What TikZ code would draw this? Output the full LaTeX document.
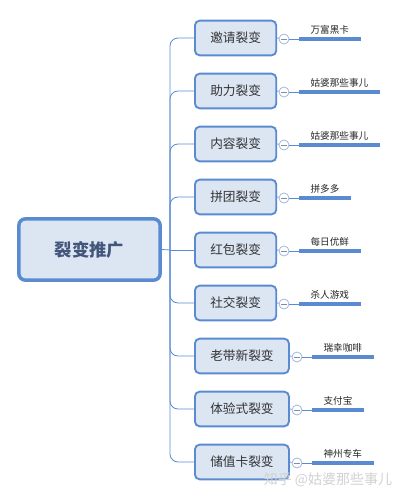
\documentclass[tikz,border=0pt]{standalone}
\usepackage{fontspec}
\setmainfont{Noto Sans CJK SC}
\definecolor{boxline}{HTML}{5A8AD0}
\definecolor{boxfill}{HTML}{DCE6F3}
\definecolor{roottext}{HTML}{43557A}
\definecolor{togline}{HTML}{9DB8E2}
\begin{document}
\begin{tikzpicture}[x=0.75pt,y=-0.75pt]
  \tikzstyle{root}=[draw=boxline,fill=boxfill,line width=2.6pt,rounded corners=5pt,minimum width=106pt,minimum height=46pt,font=\fontsize{13}{15}\selectfont\bfseries,text=roottext]
  \tikzstyle{child}=[draw=boxline,fill=boxfill,line width=1.4pt,rounded corners=3.5pt,minimum height=26pt,inner xsep=11.5pt,anchor=west,font=\fontsize{9.5}{11}\selectfont,text=black!80]
  \tikzstyle{toggle}=[circle,draw=togline,fill=white,line width=0.6pt,minimum size=7.5pt,inner sep=0pt,path picture={\draw[black!45,line width=0.5pt] ([xshift=-2pt]path picture bounding box.center) -- ([xshift=2pt]path picture bounding box.center);}]
  \tikzstyle{leaf}=[anchor=south west,inner xsep=8.5pt,inner ysep=3pt,font=\fontsize{7.2}{8}\selectfont,text=black!85]
  \tikzstyle{link}=[draw=boxline,line width=0.6pt]
  \tikzstyle{bar}=[draw=boxline,line width=2.5pt]
  \useasboundingbox (0,0) rectangle (400,497);
  % root
  \node[root] (root) at (89.5,249.5) {裂变推广};
  \coordinate (fork) at (170,250);
  \draw[link] (root.east) -- (fork);
  % branches
  \node[child] (invite) at (194,38)  {邀请裂变};
  \node[child] (assist) at (194,91)  {助力裂变};
  \node[child] (content) at (194,144) {内容裂变};
  \node[child] (group) at (194,197) {拼团裂变};
  \node[child] (redpack) at (194,250) {红包裂变};
  \node[child] (social) at (194,303) {社交裂变};
  \node[child] (referral) at (194,356) {老带新裂变};
  \node[child] (trial) at (194,409) {体验式裂变};
  \node[child] (card) at (194,462) {储值卡裂变};
  \draw[link,rounded corners=6] (fork) |- (invite.west);
  \draw[link,rounded corners=6] (fork) |- (assist.west);
  \draw[link,rounded corners=6] (fork) |- (content.west);
  \draw[link,rounded corners=6] (fork) |- (group.west);
  \draw[link] (fork) -- (redpack.west);
  \draw[link,rounded corners=6] (fork) |- (social.west);
  \draw[link,rounded corners=6] (fork) |- (referral.west);
  \draw[link,rounded corners=6] (fork) |- (trial.west);
  \draw[link,rounded corners=6] (fork) |- (card.west);
  % toggles
  \node[toggle] (t1) at (284,39)  {};
  \node[toggle] (t2) at (284,92)  {};
  \node[toggle] (t3) at (284,145) {};
  \node[toggle] (t4) at (284,198) {};
  \node[toggle] (t5) at (284,251) {};
  \node[toggle] (t6) at (284,304) {};
  \node[toggle] (t7) at (297,357) {};
  \node[toggle] (t8) at (297,410) {};
  \node[toggle] (t9) at (297,463) {};
  % examples
  \node[leaf] (l1) at (299,39)  {万富黑卡};
  \node[leaf] (l2) at (299,92)  {姑婆那些事儿};
  \node[leaf] (l3) at (299,145) {姑婆那些事儿};
  \node[leaf] (l4) at (299,198) {拼多多};
  \node[leaf] (l5) at (299,251) {每日优鲜};
  \node[leaf] (l6) at (299,304) {杀人游戏};
  \node[leaf] (l7) at (312,357) {瑞幸咖啡};
  \node[leaf] (l8) at (312,410) {支付宝};
  \node[leaf] (l9) at (312,463) {神州专车};
  \draw[link] (invite.east) -- (t1);
  \draw[link] (assist.east) -- (t2);
  \draw[link] (content.east) -- (t3);
  \draw[link] (group.east) -- (t4);
  \draw[link] (redpack.east) -- (t5);
  \draw[link] (social.east) -- (t6);
  \draw[link] (referral.east) -- (t7);
  \draw[link] (trial.east) -- (t8);
  \draw[link] (card.east) -- (t9);
  \draw[link] (t1) -- (l1.south west);
  \draw[link] (t2) -- (l2.south west);
  \draw[link] (t3) -- (l3.south west);
  \draw[link] (t4) -- (l4.south west);
  \draw[link] (t5) -- (l5.south west);
  \draw[link] (t6) -- (l6.south west);
  \draw[link] (t7) -- (l7.south west);
  \draw[link] (t8) -- (l8.south west);
  \draw[link] (t9) -- (l9.south west);
  \draw[bar] (l1.south west) -- (l1.south east);
  \draw[bar] (l2.south west) -- (l2.south east);
  \draw[bar] (l3.south west) -- (l3.south east);
  \draw[bar] (l4.south west) -- (l4.south east);
  \draw[bar] (l5.south west) -- (l5.south east);
  \draw[bar] (l6.south west) -- (l6.south east);
  \draw[bar] (l7.south west) -- (l7.south east);
  \draw[bar] (l8.south west) -- (l8.south east);
  \draw[bar] (l9.south west) -- (l9.south east);
  % watermark
  \node[font=\fontsize{10.5}{12}\selectfont,text=black!18] (mark) at (328,480) {知乎 @姑婆那些事儿};
\end{tikzpicture}
\end{document}
